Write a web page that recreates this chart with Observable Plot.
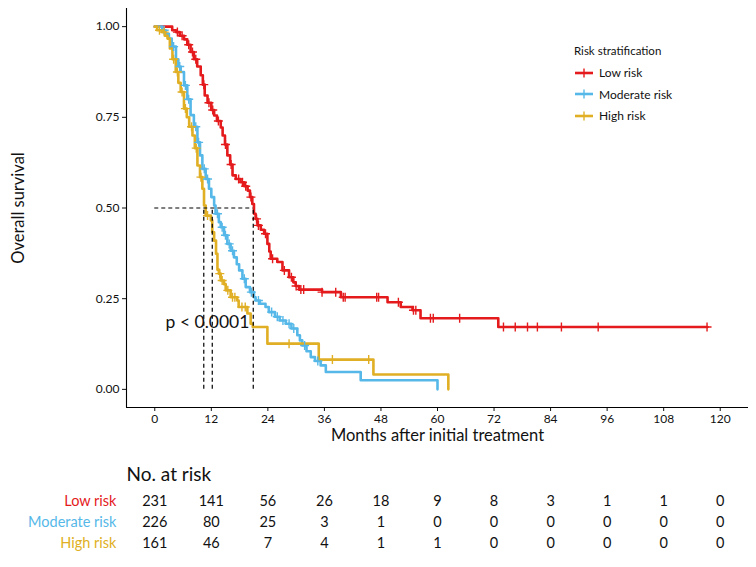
<!DOCTYPE html>
<html>
<head>
<meta charset="utf-8">
<script src="https://cdn.jsdelivr.net/npm/d3@7"></script>
<script src="https://cdn.jsdelivr.net/npm/@observablehq/plot@0.6"></script>
<style>
  body { margin: 0; background: #fff; font-family: Lato, "Open Sans", sans-serif; }
  #wrap { position: relative; width: 756px; height: 567px; }
  #legend { position: absolute; left: 574px; top: 44px; font-family: Lato, sans-serif; color: #111; }
  #legend .title { font-size: 11.5px; margin-bottom: 5px; }
  #legend .row { display: flex; align-items: center; height: 21.5px; font-size: 12px; }
  #legend svg { margin-right: 5px; }
</style>
</head>
<body>
<div id="wrap"></div>
<script>
// ---------- data ----------
const groups = ["Low risk", "Moderate risk", "High risk"];
const colors = ["#E41A1C", "#56B8E8", "#E0AF24"];

// Kaplan-Meier steps (time in months, survival after the step)
const lowT = [0,3.7,4.5,5.3,6.2,6.9,7.6,8.3,9.0,9.75,10.2,10.6,11.2,12.0,12.6,13.2,14.0,14.4,14.9,15.4,16.0,16.5,17.2,18.2,19.0,19.7,20.2,20.7,21.05,21.4,21.8,22.5,23.2,23.9,24.3,24.6,26.0,27.1,28.5,29.4,29.9,30.6,35.5,39.5,49.4,52.2,54.7,56.4,72.9,117.3];
const lowS = [1,0.99,0.985,0.975,0.965,0.95,0.93,0.91,0.89,0.866,0.84,0.81,0.79,0.77,0.755,0.74,0.722,0.70,0.675,0.645,0.62,0.59,0.58,0.571,0.56,0.548,0.53,0.511,0.484,0.47,0.452,0.44,0.429,0.401,0.38,0.36,0.351,0.328,0.309,0.295,0.285,0.275,0.268,0.254,0.24,0.227,0.218,0.196,0.172,0.172];
const modT = [0,1.6,2.3,3.0,3.6,4.5,5.0,5.5,6.2,6.9,7.6,8.3,9.05,9.6,10.1,10.8,11.5,12.0,12.6,12.9,13.6,14.0,14.7,15.4,16.1,16.8,17.4,17.9,18.6,19.3,20.2,21.05,21.4,22.3,23.5,24.2,25.5,26.5,27.8,29.0,30.25,30.8,31.3,32.2,33.1,34.0,35.2,36.3,43.7,60.0];
const modS = [1,0.99,0.98,0.967,0.945,0.91,0.89,0.875,0.838,0.80,0.756,0.724,0.681,0.645,0.608,0.58,0.553,0.53,0.507,0.484,0.461,0.447,0.425,0.401,0.382,0.364,0.345,0.328,0.305,0.282,0.268,0.254,0.245,0.236,0.227,0.213,0.20,0.19,0.181,0.168,0.149,0.135,0.121,0.105,0.089,0.078,0.066,0.048,0.025,0];
const highT = [0,0.5,1.5,2.2,2.7,3.2,3.75,4.45,5.0,5.5,6.2,6.8,7.3,8.0,8.5,9.05,9.6,10.1,10.45,10.8,11.9,12.2,12.6,13.0,13.3,13.6,14.0,14.7,15.05,16.1,17.5,17.8,19.65,20.35,20.8,23.9,34.8,46.4,62.3];
const highS = [1,0.99,0.985,0.975,0.967,0.94,0.91,0.875,0.845,0.82,0.774,0.75,0.724,0.70,0.665,0.617,0.585,0.553,0.507,0.479,0.466,0.433,0.41,0.374,0.33,0.319,0.30,0.29,0.273,0.254,0.245,0.227,0.209,0.181,0.172,0.126,0.082,0.041,0];

// censoring times
const lowCens = [4.8,5.8,7.2,8.0,8.7,10.4,11.5,12.3,13.5,15.0,16.2,17.8,18.6,19.3,20.4,21.6,22.0,23.5,25.0,27.5,29.0,30.0,31.0,31.6,35.5,38.4,40.0,40.4,47.1,47.5,51.7,54.9,55.4,58.5,59.1,64.7,74.0,76.5,79.1,81.2,86.3,94.1,117.2];
const modCens = [2.0,4.0,5.3,6.5,7.2,8.7,9.3,10.5,11.2,13.3,14.3,15.0,15.8,16.5,19.0,20.5,22.0,24.8,26.0,27.2,28.5,29.5,31.8,34.6];
const highCens = [1.0,2.0,4.0,4.8,5.8,6.5,7.8,8.8,9.8,11.2,13.8,14.3,15.5,16.5,17.0,18.5,19.2,28.5,37.7,45.4];

// median survival (months)
const medians = [20.9, 12.2, 10.4];
const pvalue = "p < 0.0001";
const pvalAt = [2.3, 0.185]; // annotation anchor (month, survival)

// number at risk table
const riskTimes = [0,12,24,36,48,60,72,84,96,108,120];
const riskLow  = [231,141,56,26,18,9,8,3,1,1,0];
const riskMod  = [226,80,25,3,1,0,0,0,0,0,0];
const riskHigh = [161,46,7,4,1,1,0,0,0,0,0];

const yTicks = [0, 0.25, 0.5, 0.75, 1];

// ---------- build tables ----------
const stepSets = [[lowT, lowS], [modT, modS], [highT, highS]];
const censSets = [lowCens, modCens, highCens];
const curves = [];
stepSets.forEach(([T, S], i) => T.forEach((t, j) => curves.push({g: groups[i], t, s: S[j]})));
const cens = [];
censSets.forEach((C, i) => {
  const [T, S] = stepSets[i];
  C.forEach(t => {
    const k = d3.bisectRight(T, t) - 1;
    cens.push({g: groups[i], t, s: S[Math.max(0, k)]});
  });
});
const riskSets = [riskLow, riskMod, riskHigh];
const riskRows = [];
riskSets.forEach((R, i) => R.forEach((n, j) => riskRows.push({g: groups[i], t: riskTimes[j], n})));

const plusSym = {
  draw(ctx, size) {
    const r = Math.sqrt(size / Math.PI);
    ctx.moveTo(-r, 0); ctx.lineTo(r, 0);
    ctx.moveTo(0, -r); ctx.lineTo(0, r);
  }
};

const xDomain = [-6, 126];
const font = "Lato, 'Open Sans', sans-serif";

const main = Plot.plot({
  width: 756, height: 450,
  marginLeft: 126, marginRight: 8, marginTop: 8, marginBottom: 43,
  style: {fontFamily: font, fontSize: "12px", color: "#111", background: "#fff"},
  x: {domain: xDomain, ticks: riskTimes, tickFormat: d => d, label: null, tickSize: 4, tickPadding: 3},
  y: {domain: [-0.05, 1.05], ticks: yTicks, tickFormat: d3.format(".2f"), label: null, tickSize: 4, tickPadding: 3},
  color: {domain: groups, range: colors},
  marks: [
    Plot.ruleX([xDomain[0]], {stroke: "#000", strokeWidth: 1.1}),
    Plot.ruleY([-0.05], {stroke: "#000", strokeWidth: 1.1}),
    Plot.line(curves, {x: "t", y: "s", z: "g", stroke: "g", curve: "step-after", strokeWidth: 2.6}),
    Plot.dot(cens, {x: "t", y: "s", stroke: "g", fill: "none", symbol: plusSym, r: 4.5, strokeWidth: 1.4}),
    Plot.ruleY([0.5], {x1: 0, x2: d3.max(medians), stroke: "#000", strokeDasharray: "4,3", strokeWidth: 1.2}),
    Plot.ruleX(medians, {y1: 0, y2: 0.5, stroke: "#000", strokeDasharray: "4,3", strokeWidth: 1.2}),
    Plot.text([pvalue], {x: pvalAt[0], y: pvalAt[1], textAnchor: "start", fontSize: 17.5, fill: "#111"}),
    Plot.text(["Months after initial treatment"], {frameAnchor: "bottom", textAnchor: "middle", dy: 33, fontSize: 16.5, fill: "#111"}),
    Plot.text(["Overall survival"], {frameAnchor: "left", textAnchor: "middle", rotate: -90, dx: -108, fontSize: 16.5, fill: "#111"})
  ]
});

const table = Plot.plot({
  width: 756, height: 117,
  marginLeft: 126, marginRight: 8, marginTop: 50, marginBottom: 24,
  style: {fontFamily: font, fontSize: "14px", color: "#111", background: "#fff"},
  x: {domain: xDomain, axis: null},
  y: {type: "point", domain: groups, padding: 0, axis: null},
  color: {domain: groups, range: colors},
  marks: [
    Plot.text(["No. at risk"], {frameAnchor: "top-left", dy: -33, textAnchor: "start", fontSize: 19, fill: "#111"}),
    Plot.text(groups, {y: d => d, frameAnchor: "left", textAnchor: "end", dx: -10, fill: d => d, fontSize: 14.5}),
    Plot.text(riskRows, {x: "t", y: "g", text: d => String(d.n), fill: "#111", fontSize: 14.5})
  ]
});

const wrap = document.getElementById("wrap");
wrap.appendChild(main);
wrap.appendChild(table);

// legend
const legend = document.createElement("div");
legend.id = "legend";
const title = document.createElement("div");
title.className = "title";
title.textContent = "Risk stratification";
legend.appendChild(title);
groups.forEach((g, i) => {
  const row = document.createElement("div");
  row.className = "row";
  const svg = d3.create("svg").attr("width", 20).attr("height", 10);
  svg.append("line").attr("x1", 1).attr("x2", 19).attr("y1", 5).attr("y2", 5).attr("stroke", colors[i]).attr("stroke-width", 2.6);
  svg.append("line").attr("x1", 10).attr("x2", 10).attr("y1", 0.5).attr("y2", 9.5).attr("stroke", colors[i]).attr("stroke-width", 1.4);
  row.appendChild(svg.node());
  const span = document.createElement("span");
  span.textContent = g;
  row.appendChild(span);
  legend.appendChild(row);
});
wrap.appendChild(legend);
</script>
</body>
</html>
